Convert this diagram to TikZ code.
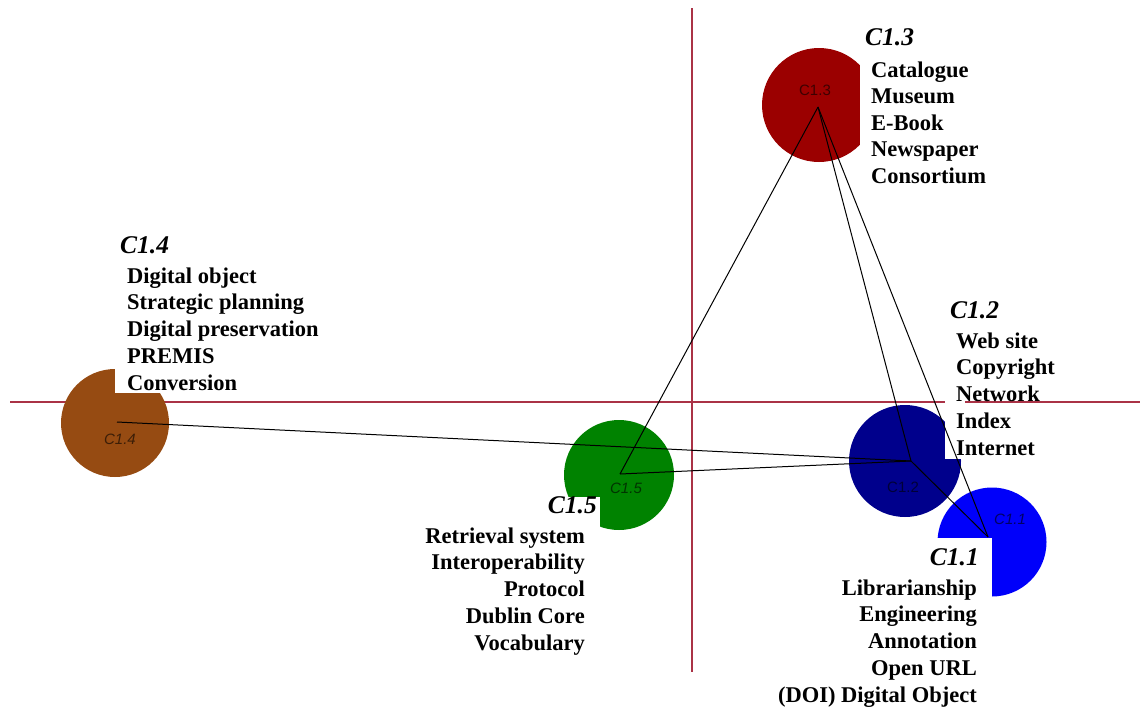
\documentclass[tikz,border=0pt]{standalone}
\usepackage{fontspec}
\setmainfont{Liberation Serif}
\newfontfamily\insidefont{Liberation Sans}
\definecolor{axisred}{RGB}{170,50,70}
\definecolor{cA}{RGB}{0,0,250}
\definecolor{cB}{RGB}{0,0,140}
\definecolor{cC}{RGB}{155,0,0}
\definecolor{cD}{RGB}{150,75,18}
\definecolor{cE}{RGB}{0,130,0}
\begin{document}
\begin{tikzpicture}[x=1pt,y=-1pt,
  axis/.style={draw=axisred, line width=1.3pt},
  link/.style={draw=black, line width=1pt},
  blob/.style={circle, inner sep=0pt, draw=none},
  notch/.style={fill=white, draw=none},
  inlabel/.style={font=\insidefont\fontsize{15}{15}\selectfont, text=black, text opacity=0.6, inner sep=0pt},
  head/.style={font=\fontsize{25.5}{25.5}\selectfont\bfseries\itshape, inner sep=0pt},
  item/.style={font=\fontsize{22.5}{22.5}\selectfont\bfseries, inner sep=0pt}]
\useasboundingbox (0,0) rectangle (1140,707);

% quadrant axes
\coordinate (vtop) at (692,8);
\coordinate (vbot) at (692,672);
\coordinate (hleft) at (10,402);
\coordinate (hright) at (1140,402);
\draw[axis] (vtop) -- (vbot);
\draw[axis] (hleft) -- (hright);

% cluster discs
\node[blob, fill=cC, minimum size=114pt] (d13) at (819,105) {};
\node[blob, fill=cD, minimum size=108pt] (d14) at (115,423) {};
\node[blob, fill=cE, minimum size=110pt] (d15) at (619,475) {};
\node[blob, fill=cB, minimum size=112pt] (d12) at (905,461) {};
\node[blob, fill=cA, minimum size=109pt] (d11) at (992,542) {};

% white cut-outs where the keyword lists sit
\fill[notch] (860,40) rectangle (885,175);
\fill[notch] (115,360) rectangle (175,393);
\fill[notch] (560,497) rectangle (600,540);
\fill[notch] (945,400) rectangle (965,459);
\fill[notch] (930,538) rectangle (992,600);

% labels inside the discs
\node[inlabel] (i13) at (815,90) {C1.3};
\node[inlabel, font=\insidefont\itshape\fontsize{15}{15}\selectfont] (i14) at (120,439) {C1.4};
\node[inlabel, font=\insidefont\itshape\fontsize{15}{15}\selectfont] (i15) at (626,488) {C1.5};
\node[inlabel] (i12) at (903,487) {C1.2};
\node[inlabel, font=\insidefont\itshape\fontsize{15}{15}\selectfont] (i11) at (1010,519) {C1.1};

% link end points
\coordinate (v13) at (818,107);
\coordinate (v14) at (117,422);
\coordinate (v15) at (620,474);
\coordinate (v12) at (911,461);
\coordinate (v11) at (988,537);

\draw[link] (v13) -- (v15);
\draw[link] (v13) -- (v12);
\draw[link] (v13) -- (v11);
\draw[link] (v14) -- (v12);
\draw[link] (v15) -- (v12);
\draw[link] (v12) -- (v11);

% C1.3 keywords
\node[head, anchor=base west] (h13) at (865,45) {C1.3};
\foreach \t [count=\i] in {Catalogue,Museum,E-Book,Newspaper,Consortium}
  \node[item, anchor=base west] (k13-\i) at (871,{77+26.6*(\i-1)}) {\t};

% C1.4 keywords
\node[head, anchor=base west] (h14) at (120,253) {C1.4};
\foreach \t [count=\i] in {Digital object,Strategic planning,Digital preservation,PREMIS,Conversion}
  \node[item, anchor=base west] (k14-\i) at (127,{283+26.75*(\i-1)}) {\t};

% C1.2 keywords
\node[head, anchor=base west] (h12) at (950,318) {C1.2};
\foreach \t [count=\i] in {Web site,Copyright,Network,Index,Internet}
  \node[item, anchor=base west] (k12-\i) at (956,{348+26.75*(\i-1)}) {\t};

% C1.5 keywords
\node[head, anchor=base east] (h15) at (597,513) {C1.5};
\foreach \t [count=\i] in {Retrieval system,Interoperability,Protocol,Dublin Core,Vocabulary}
  \node[item, anchor=base east] (k15-\i) at (585,{543+26.75*(\i-1)}) {\t};

% C1.1 keywords
\node[head, anchor=base east] (h11) at (979,565) {C1.1};
\foreach \t [count=\i] in {Librarianship,Engineering,Annotation,Open URL,{(DOI) Digital Object}}
  \node[item, anchor=base east] (k11-\i) at (977,{595+26.75*(\i-1)}) {\t};
\end{tikzpicture}
\end{document}
